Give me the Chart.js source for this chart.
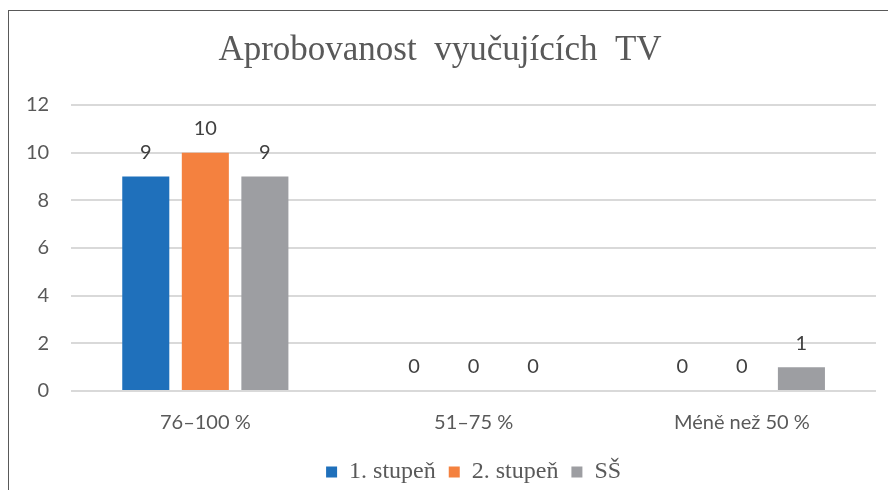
<!DOCTYPE html>
<html>
<head>
<meta charset="utf-8">
<script src="https://cdn.jsdelivr.net/npm/chart.js@4.4.1/dist/chart.umd.min.js"></script>
<style>
  html, body { margin: 0; padding: 0; background: #fff; overflow: hidden; }
  #frame { position: absolute; left: 8px; top: 10px; width: 880px; height: 480px;
           border-left: 1px solid #595959; border-top: 1px solid #595959; }
  #wrap { position: absolute; left: 0; top: 0; width: 888px; height: 490px; }
</style>
</head>
<body>
<div id="frame"></div>
<div id="wrap"><canvas id="aprobChart"></canvas></div>
<script>
// Kategorie a hodnoty
const categories = ['76–100 %', '51–75 %', 'Méně než 50 %'];
const stupen1 = [9, 0, 0];
const stupen2 = [10, 0, 0];
const ss = [9, 0, 1];
const seriesNames = ['1. stupeň', '2. stupeň', 'SŠ'];
const yTicks = [0, 2, 4, 6, 8, 10, 12];

const colors = ['#1f70bb', '#f4813f', '#9d9ea2'];

// popisky hodnot nad sloupci
const valueLabels = {
    id: 'valueLabels',
    afterDatasetsDraw(chart) {
        const ctx = chart.ctx;
        ctx.save();
        ctx.font = '20px Lato';
        ctx.fillStyle = '#404040';
        ctx.textAlign = 'center';
        ctx.textBaseline = 'middle';
        chart.data.datasets.forEach((ds, i) => {
            chart.getDatasetMeta(i).data.forEach((bar, j) => {
                ctx.fillText(String(ds.data[j]), bar.x, bar.y - 24);
            });
        });
        ctx.restore();
    }
};

const config = {
    type: 'bar',
    data: {
        labels: categories,
        datasets: [
            { label: seriesNames[0], data: stupen1, backgroundColor: colors[0] },
            { label: seriesNames[1], data: stupen2, backgroundColor: colors[1] },
            { label: seriesNames[2], data: ss, backgroundColor: colors[2] }
        ]
    },
    options: {
        responsive: true,
        maintainAspectRatio: false,
        animation: false,
        categoryPercentage: 0.666,
        barPercentage: 0.79,
        layout: { padding: { left: 4, right: 12, top: 0, bottom: -4 } },
        plugins: {
            title: {
                display: true,
                text: 'Aprobovanost  vyučujících  TV',
                color: '#595959',
                font: { family: '"Liberation Serif"', size: 35, weight: 'normal' },
                padding: { top: 30, bottom: 33 }
            },
            legend: {
                position: 'bottom',
                fullSize: false,
                labels: {
                    color: '#595959',
                    font: { family: '"Liberation Serif"', size: 24 },
                    boxWidth: 11,
                    boxHeight: 11,
                    padding: 13
                }
            },
            tooltip: { enabled: false }
        },
        scales: {
            x: {
                grid: { display: false },
                border: { display: false },
                ticks: {
                    color: '#595959',
                    font: { family: 'Lato', size: 20 },
                    padding: 12
                }
            },
            y: {
                min: 0,
                max: 12,
                afterBuildTicks(axis) {
                    axis.ticks = yTicks.map(v => ({ value: v }));
                },
                grid: { color: '#d9d9d9', lineWidth: 2, drawTicks: false },
                border: { display: false },
                ticks: {
                    color: '#595959',
                    font: { family: 'Lato', size: 20 },
                    padding: 22
                }
            }
        }
    },
    plugins: [valueLabels]
};

const aprobChart = new Chart(document.getElementById('aprobChart'), config);
</script>
</body>
</html>
